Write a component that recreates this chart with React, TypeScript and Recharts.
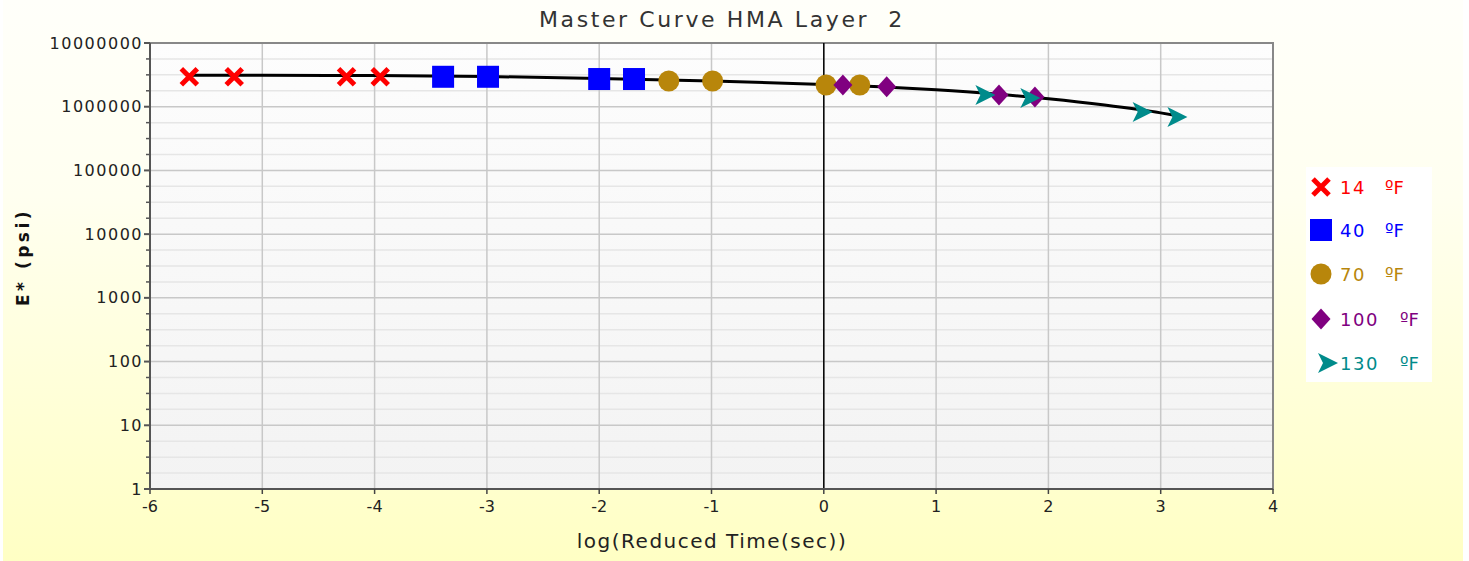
import React from 'react';
import {
  ComposedChart,
  XAxis,
  YAxis,
  Line,
  Scatter,
  ReferenceLine,
  ReferenceArea,
  CartesianGrid,
} from 'recharts';

const FONT = '"DejaVu Sans", Verdana, sans-serif';

const chartTitle = 'Master Curve HMA Layer\u00a0\u00a02';
const xAxisTitle = 'log(Reduced Time(sec))';
const yAxisTitle = 'E* (psi)';

const xTicks = [-6, -5, -4, -3, -2, -1, 0, 1, 2, 3, 4];
const yMajorTicks = [1, 10, 100, 1000, 10000, 100000, 1000000, 10000000];
const yMinorSteps = [0.25, 0.5, 0.75];

const legendNumbers = ['14', '40', '70', '100', '130'];
const legendUnit = '\u00baF';
const seriesColors = ['#ff0000', '#0000ff', '#b8860b', '#800080', '#008b8b'];

// 14 ºF
const t14X = [-5.65, -5.25, -4.25, -3.95];
const t14Y = [2950000, 2950000, 2950000, 2950000];
// 40 ºF
const t40X = [-3.39, -2.99, -2.0, -1.69];
const t40Y = [2950000, 2950000, 2720000, 2720000];
// 70 ºF
const t70X = [-1.38, -0.99, 0.02, 0.32];
const t70Y = [2530000, 2530000, 2190000, 2190000];
// 100 ºF
const t100X = [0.17, 0.56, 1.56, 1.88];
const t100Y = [2190000, 2060000, 1530000, 1420000];
// 130 ºF
const t130X = [1.43, 1.83, 2.83, 3.14];
const t130Y = [1530000, 1370000, 826000, 689000];

// fitted master curve
const curveX = [-5.65, -5, -4, -3, -2, -1, 0, 0.5, 1, 1.5, 2, 2.5, 3, 3.15];
const curveY = [3120000, 3110000, 3080000, 2980000, 2780000, 2530000, 2240000, 2050000, 1840000, 1600000, 1330000, 1060000, 800000, 720000];

const zip = (xs: number[], ys: number[]) => xs.map((x, i) => ({ x, y: ys[i] }));

const d14 = zip(t14X, t14Y);
const d40 = zip(t40X, t40Y);
const d70 = zip(t70X, t70Y);
const d100 = zip(t100X, t100Y);
const d130 = zip(t130X, t130Y);
const curve = zip(curveX, curveY);

const yMinorTicks: number[] = [];
for (let k = 0; k < yMajorTicks.length - 1; k++) {
  yMinorSteps.forEach((s) => yMinorTicks.push(Math.pow(10, k + s)));
}
const yAllTicks = [...yMajorTicks, ...yMinorTicks].sort((a, b) => a - b);
const majorSet = new Set(yMajorTicks);

// marker drawers
const drawX = (cx: number, cy: number, c: string) => (
  <path d={`M${cx - 8},${cy - 8}L${cx + 8},${cy + 8}M${cx + 8},${cy - 8}L${cx - 8},${cy + 8}`} stroke={c} strokeWidth={5} fill="none" />
);
const drawSquare = (cx: number, cy: number, c: string) => (
  <rect x={cx - 11} y={cy - 11} width={22} height={22} fill={c} />
);
const drawCircle = (cx: number, cy: number, c: string) => <circle cx={cx} cy={cy} r={10.5} fill={c} />;
const drawDiamond = (cx: number, cy: number, c: string) => (
  <path d={`M${cx},${cy - 10.5}L${cx + 9.5},${cy}L${cx},${cy + 10.5}L${cx - 9.5},${cy}Z`} fill={c} />
);
const drawArrow = (cx: number, cy: number, c: string) => (
  <path d={`M${cx + 11},${cy}L${cx - 9},${cy - 10}L${cx - 4},${cy}L${cx - 9},${cy + 10}Z`} fill={c} />
);
const drawers = [drawX, drawSquare, drawCircle, drawDiamond, drawArrow];

const makeShape = (idx: number) => (props: any) => {
  const { cx, cy } = props;
  if (cx == null || cy == null) return <g />;
  return <g>{drawers[idx](cx, cy, seriesColors[idx])}</g>;
};

const YTick = (props: any) => {
  const { x, y, payload } = props;
  const v = payload.value;
  const major = majorSet.has(v);
  return (
    <g>
      <line x1={x - (major ? 6 : 4)} x2={x} y1={y} y2={y} stroke="#555" strokeWidth={major ? 2 : 1.5} />
      {major && (
        <text x={x - 7} y={y} dy={5.5} textAnchor="end" fontFamily={FONT} fontSize={16} letterSpacing={1.5} fill="#222">
          {String(v)}
        </text>
      )}
    </g>
  );
};

const XTick = (props: any) => {
  const { x, y, payload } = props;
  return (
    <text x={x} y={y} dy={16} textAnchor="middle" fontFamily={FONT} fontSize={16} fill="#222">
      {String(payload.value)}
    </text>
  );
};

const legendRowsY = [187, 230, 274, 319, 363];

export default function App() {
  return (
    <div style={{ position: 'absolute', left: 0, top: 0, width: 1469, height: 561, background: '#ffffff', overflow: 'hidden' }}>
      <div
        style={{
          position: 'absolute',
          left: 3,
          top: 0,
          width: 1460,
          height: 561,
          background: 'linear-gradient(to bottom, #fffffa 0%, #fffff0 35%, #ffffc4 100%)',
        }}
      />
      <div style={{ position: 'absolute', left: 0, top: 0 }}>
        <ComposedChart width={1469} height={561} margin={{ top: 43, right: 196, bottom: 32, left: 0 }}>
          <defs>
            <linearGradient id="plotBg" x1="0" y1="0" x2="0" y2="1">
              <stop offset="0%" stopColor="#fdfdfd" />
              <stop offset="100%" stopColor="#f3f3f3" />
            </linearGradient>
          </defs>
          <XAxis
            type="number"
            dataKey="x"
            domain={[-6, 4]}
            ticks={xTicks}
            interval={0}
            allowDataOverflow
            height={40}
            tick={<XTick />}
            tickSize={5}
            tickLine={{ stroke: '#444', strokeWidth: 1.5 }}
            axisLine={{ stroke: '#555', strokeWidth: 2 }}
          />
          <YAxis
            type="number"
            dataKey="y"
            scale="log"
            domain={[1, 10000000]}
            ticks={yAllTicks}
            interval={0}
            allowDataOverflow
            width={150}
            tick={<YTick />}
            tickLine={false}
            tickSize={0}
            tickMargin={0}
            axisLine={{ stroke: '#555', strokeWidth: 2 }}
          />
          <CartesianGrid
            fill="url(#plotBg)"
            vertical={false}
            horizontalValues={yMinorTicks}
            stroke="#e6e6e6"
            strokeWidth={1.5}
          />
          <CartesianGrid
            horizontalValues={yMajorTicks}
            verticalValues={xTicks}
            stroke="#c8c8c8"
            strokeWidth={1.5}
          />
          <ReferenceArea x1={-6} x2={4} y1={1} y2={10000000} fill="none" stroke="#888" strokeWidth={2} ifOverflow="visible" />
          <ReferenceLine x={0} stroke="#000" strokeWidth={1.5} />
          <Line
            data={curve}
            dataKey="y"
            type="monotone"
            stroke="#000"
            strokeWidth={3}
            dot={false}
            activeDot={false}
            isAnimationActive={false}
          />
          <Scatter data={d14} shape={makeShape(0)} isAnimationActive={false} />
          <Scatter data={d40} shape={makeShape(1)} isAnimationActive={false} />
          <Scatter data={d70} shape={makeShape(2)} isAnimationActive={false} />
          <Scatter data={d100} shape={makeShape(3)} isAnimationActive={false} />
          <Scatter data={d130} shape={makeShape(4)} isAnimationActive={false} />
        </ComposedChart>
      </div>
      <svg width={1469} height={561} style={{ position: 'absolute', left: 0, top: 0, pointerEvents: 'none' }}>
        <text x={722} y={27} textAnchor="middle" fontFamily={FONT} fontSize={22} letterSpacing={2.6} fill="#333">
          {chartTitle}
        </text>
        <text x={712} y={548} textAnchor="middle" fontFamily={FONT} fontSize={20} letterSpacing={1.5} fill="#222">
          {xAxisTitle}
        </text>
        <text
          x={0}
          y={0}
          transform="translate(29,257) rotate(-90)"
          textAnchor="middle"
          fontFamily={FONT}
          fontSize={17}
          fontWeight="bold"
          letterSpacing={3.5}
          fill="#111"
        >
          {yAxisTitle}
        </text>
        <rect x={1306} y={167} width={126} height={215} fill="#ffffff" />
        {legendNumbers.map((num, i) => (
          <g key={num}>
            {drawers[i](i === 4 ? 1327 : 1321, legendRowsY[i], seriesColors[i])}
            <text x={1340} y={legendRowsY[i] + 6.5} fontFamily={FONT} fontSize={18} letterSpacing={1.5} fill={seriesColors[i]}>
              {num}
            </text>
            <text x={num.length === 3 ? 1400 : 1385} y={legendRowsY[i] + 6.5} fontFamily={FONT} fontSize={18} fill={seriesColors[i]}>
              {legendUnit}
            </text>
          </g>
        ))}
      </svg>
    </div>
  );
}
